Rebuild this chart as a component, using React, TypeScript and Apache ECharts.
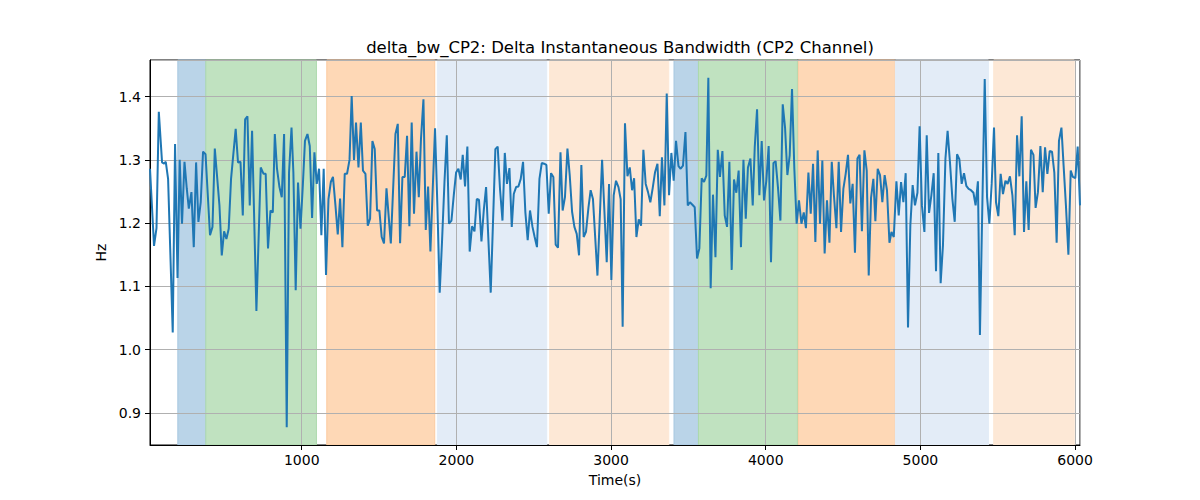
/**
 * delta_bw_CP2 time series with phase spans
 */

import React, { useEffect, useRef } from 'react';
import * as echarts from 'echarts';

// [time (s), delta bandwidth (Hz)]
const bwSamples: [number, number][] = [
  [19, 1.286], [45, 1.164], [61, 1.192], [76, 1.376], [97, 1.296], [110, 1.294], [121, 1.297], [136, 1.27], [166, 1.027], [181, 1.325],
  [197, 1.113], [211, 1.3], [226, 1.199], [242, 1.297], [257, 1.254], [270, 1.223], [287, 1.249], [302, 1.162], [317, 1.296], [332, 1.202],
  [347, 1.233], [362, 1.313], [378, 1.309], [407, 1.181], [423, 1.194], [438, 1.318], [468, 1.228], [483, 1.149], [498, 1.187], [513, 1.175],
  [528, 1.191], [543, 1.27], [573, 1.349], [588, 1.296], [604, 1.297], [619, 1.212], [634, 1.364], [649, 1.369], [664, 1.228], [679, 1.346],
  [707, 1.061], [735, 1.288], [753, 1.278], [767, 1.278], [782, 1.16], [798, 1.22], [813, 1.217], [826, 1.341], [840, 1.286], [856, 1.257],
  [871, 1.241], [886, 1.341], [903, 0.877], [918, 1.28], [934, 1.351], [946, 1.28], [961, 1.094], [976, 1.264], [992, 1.191], [1007, 1.259],
  [1021, 1.33], [1037, 1.341], [1052, 1.322], [1067, 1.208], [1082, 1.312], [1097, 1.262], [1112, 1.286], [1127, 1.181], [1142, 1.286], [1157, 1.118],
  [1173, 1.238], [1188, 1.265], [1202, 1.273], [1218, 1.228], [1233, 1.182], [1248, 1.239], [1263, 1.162], [1278, 1.278], [1293, 1.278], [1309, 1.3],
  [1323, 1.401], [1338, 1.3], [1351, 1.359], [1367, 1.288], [1382, 1.359], [1396, 1.283], [1412, 1.278], [1427, 1.196], [1442, 1.207], [1457, 1.33],
  [1472, 1.317], [1487, 1.22], [1502, 1.22], [1517, 1.178], [1532, 1.168], [1548, 1.255], [1576, 1.168], [1606, 1.341], [1621, 1.357], [1636, 1.168],
  [1651, 1.273], [1666, 1.273], [1681, 1.338], [1696, 1.195], [1711, 1.359], [1726, 1.215], [1742, 1.313], [1757, 1.241], [1771, 1.333], [1787, 1.396],
  [1802, 1.189], [1817, 1.258], [1832, 1.155], [1847, 1.254], [1862, 1.35], [1877, 1.228], [1892, 1.09], [1907, 1.17], [1923, 1.265], [1938, 1.339],
  [1952, 1.199], [1968, 1.204], [1983, 1.244], [1998, 1.28], [2013, 1.286], [2028, 1.269], [2041, 1.308], [2056, 1.258], [2071, 1.321], [2086, 1.155],
  [2101, 1.195], [2117, 1.187], [2132, 1.238], [2146, 1.237], [2162, 1.171], [2177, 1.22], [2192, 1.257], [2222, 1.09], [2252, 1.317], [2267, 1.321],
  [2282, 1.254], [2298, 1.204], [2313, 1.311], [2327, 1.262], [2343, 1.287], [2358, 1.194], [2371, 1.246], [2386, 1.257], [2401, 1.258], [2416, 1.27],
  [2431, 1.297], [2446, 1.217], [2461, 1.173], [2476, 1.22], [2492, 1.194], [2506, 1.178], [2521, 1.162], [2537, 1.27], [2552, 1.295], [2567, 1.294],
  [2582, 1.292], [2597, 1.215], [2612, 1.279], [2627, 1.273], [2642, 1.166], [2657, 1.161], [2673, 1.312], [2687, 1.22], [2702, 1.241], [2718, 1.318],
  [2733, 1.275], [2748, 1.218], [2763, 1.194], [2778, 1.183], [2793, 1.149], [2808, 1.292], [2823, 1.178], [2838, 1.186], [2854, 1.225], [2868, 1.252],
  [2883, 1.238], [2912, 1.117], [2942, 1.3], [2972, 1.138], [2987, 1.262], [3002, 1.11], [3017, 1.244], [3032, 1.267], [3048, 1.257], [3062, 1.238],
  [3075, 1.036], [3090, 1.358], [3106, 1.274], [3121, 1.288], [3136, 1.252], [3149, 1.271], [3164, 1.178], [3179, 1.206], [3194, 1.196], [3209, 1.316],
  [3224, 1.262], [3239, 1.249], [3254, 1.233], [3269, 1.255], [3284, 1.28], [3300, 1.294], [3315, 1.211], [3329, 1.304], [3345, 1.228], [3360, 1.405],
  [3375, 1.244], [3390, 1.311], [3405, 1.267], [3420, 1.33], [3436, 1.29], [3450, 1.286], [3465, 1.291], [3481, 1.344], [3496, 1.228], [3510, 1.233],
  [3526, 1.229], [3541, 1.225], [3556, 1.144], [3571, 1.16], [3586, 1.271], [3601, 1.265], [3616, 1.275], [3629, 1.43], [3644, 1.097], [3659, 1.245],
  [3675, 1.146], [3690, 1.316], [3704, 1.273], [3720, 1.314], [3735, 1.212], [3750, 1.194], [3765, 1.297], [3780, 1.126], [3795, 1.269], [3810, 1.248],
  [3825, 1.283], [3840, 1.162], [3856, 1.3], [3871, 1.207], [3885, 1.288], [3901, 1.302], [3916, 1.228], [3929, 1.32], [3944, 1.38], [3959, 1.244],
  [3974, 1.33], [3989, 1.236], [4004, 1.267], [4019, 1.322], [4034, 1.138], [4050, 1.295], [4064, 1.298], [4079, 1.257], [4095, 1.204], [4110, 1.388],
  [4125, 1.351], [4140, 1.276], [4155, 1.307], [4170, 1.412], [4185, 1.286], [4200, 1.199], [4215, 1.236], [4231, 1.199], [4246, 1.217], [4260, 1.192],
  [4276, 1.28], [4291, 1.215], [4306, 1.294], [4321, 1.17], [4336, 1.315], [4351, 1.199], [4366, 1.299], [4381, 1.152], [4396, 1.236], [4412, 1.169],
  [4427, 1.297], [4441, 1.244], [4457, 1.192], [4472, 1.297], [4487, 1.186], [4502, 1.254], [4517, 1.278], [4532, 1.308], [4547, 1.231], [4562, 1.262],
  [4577, 1.153], [4593, 1.302], [4607, 1.308], [4622, 1.187], [4638, 1.315], [4653, 1.283], [4666, 1.117], [4681, 1.24], [4696, 1.27], [4709, 1.203],
  [4724, 1.286], [4739, 1.276], [4754, 1.233], [4769, 1.276], [4784, 1.252], [4800, 1.169], [4813, 1.186], [4828, 1.178], [4845, 1.266], [4860, 1.212],
  [4875, 1.265], [4890, 1.233], [4905, 1.279], [4920, 1.035], [4935, 1.196], [4950, 1.26], [4965, 1.228], [4981, 1.248], [4995, 1.353], [5010, 1.228],
  [5026, 1.186], [5041, 1.339], [5056, 1.216], [5071, 1.244], [5086, 1.279], [5101, 1.124], [5116, 1.311], [5131, 1.105], [5146, 1.165], [5162, 1.302],
  [5176, 1.346], [5191, 1.297], [5207, 1.238], [5222, 1.202], [5237, 1.309], [5252, 1.301], [5267, 1.262], [5282, 1.279], [5297, 1.259], [5312, 1.254],
  [5327, 1.252], [5343, 1.248], [5357, 1.228], [5372, 1.266], [5385, 1.023], [5401, 1.233], [5416, 1.428], [5431, 1.241], [5446, 1.199], [5461, 1.262],
  [5476, 1.351], [5489, 1.233], [5504, 1.211], [5519, 1.278], [5534, 1.246], [5550, 1.267], [5564, 1.262], [5579, 1.274], [5595, 1.244], [5610, 1.181],
  [5625, 1.339], [5640, 1.274], [5655, 1.369], [5670, 1.186], [5685, 1.266], [5700, 1.189], [5715, 1.316], [5731, 1.308], [5745, 1.224], [5760, 1.249],
  [5776, 1.322], [5791, 1.249], [5806, 1.32], [5821, 1.278], [5836, 1.314], [5851, 1.313], [5866, 1.28], [5881, 1.169], [5896, 1.33], [5912, 1.351],
  [5926, 1.291], [5941, 1.228], [5957, 1.15], [5972, 1.283], [5986, 1.273], [6002, 1.271], [6017, 1.321], [6032, 1.228],
];

// shaded phases: start, end, kind
const phaseStart = [199, 380, 1162, 1877, 2603, 3407, 3565, 4211, 4838, 5474];
const phaseEnd = [380, 1095, 1860, 2584, 3373, 3565, 4205, 4835, 5440, 5995];
const phaseKind = ['blue', 'green', 'orange', 'paleBlue', 'paleOrange', 'blue', 'green', 'orange', 'paleBlue', 'paleOrange'];

const xRange = [19, 6032];
const yRange = [0.849, 1.458];

const kindColor: Record<string, string> = {
  blue: '#bad4e8',
  green: '#c0e2c0',
  orange: '#fed8b6',
  paleBlue: '#e3ecf7',
  paleOrange: '#fde8d6',
};
const kindEdge: Record<string, string> = {
  blue: '#a6c7e0',
  green: '#acd9ac',
  orange: '#fccba0',
  paleBlue: '#e3ecf7',
  paleOrange: '#fde8d6',
};

const FONT = 'DejaVu Sans';

export default function App() {
  const chartRef = useRef<HTMLDivElement>(null);

  useEffect(() => {
    if (!chartRef.current) return;
    const chart = echarts.init(chartRef.current, null, { renderer: 'svg' });

    const areas = phaseStart.map((s, i) => [
      {
        xAxis: s,
        itemStyle: { color: kindColor[phaseKind[i]], borderColor: kindEdge[phaseKind[i]], borderWidth: 1 },
      },
      { xAxis: phaseEnd[i] },
    ]);

    const option: echarts.EChartsOption = {
      animation: false,
      backgroundColor: '#fff',
      title: {
        text: 'delta_bw_CP2: Delta Instantaneous Bandwidth (CP2 Channel)',
        left: 615,
        top: 34,
        textAlign: 'center',
        textStyle: { fontFamily: FONT, fontSize: 16.5, fontWeight: 'normal', color: '#000' },
      },
      grid: {
        left: 150,
        right: 120,
        top: 60,
        bottom: 55,
        show: true,
        borderColor: '#000',
        borderWidth: 1,
        backgroundColor: 'transparent',
      },
      xAxis: {
        type: 'value',
        min: xRange[0],
        max: xRange[1],
        splitNumber: 6,
        z: 2,
        name: 'Time(s)',
        nameLocation: 'middle',
        nameGap: 28,
        nameTextStyle: { fontFamily: FONT, fontSize: 14, color: '#000' },
        axisLine: { lineStyle: { color: '#000', width: 1 } },
        axisTick: { length: 5, lineStyle: { color: '#000' } },
        axisLabel: {
          fontFamily: FONT,
          fontSize: 14,
          color: '#000',
          margin: 8,
          showMinLabel: false,
          showMaxLabel: false,
          formatter: (v: number) => String(v),
        },
        splitLine: { show: true, lineStyle: { color: '#b0b0b0', width: 1 } },
      },
      yAxis: {
        type: 'value',
        min: yRange[0],
        max: yRange[1],
        z: 2,
        name: 'Hz',
        nameLocation: 'middle',
        nameGap: 35,
        nameRotate: 90,
        nameTextStyle: { fontFamily: FONT, fontSize: 14, color: '#000' },
        axisLine: { show: true, lineStyle: { color: '#000', width: 1 } },
        axisTick: { show: true, length: 5, lineStyle: { color: '#000' } },
        axisLabel: {
          fontFamily: FONT,
          fontSize: 14,
          color: '#000',
          margin: 9,
          showMinLabel: false,
          showMaxLabel: false,
          formatter: (v: number) => v.toFixed(1),
        },
        splitLine: { show: true, lineStyle: { color: '#b0b0b0', width: 1 } },
      },
      series: [
        {
          name: 'phases',
          type: 'line',
          z: 1,
          data: [],
          silent: true,
          markArea: { silent: true, data: areas as any },
        },
        {
          name: 'delta_bw_CP2',
          type: 'line',
          z: 3,
          data: bwSamples,
          showSymbol: false,
          lineStyle: { color: '#1f77b4', width: 2 },
          itemStyle: { color: '#1f77b4' },
        },
      ],
    };

    chart.setOption(option);

    return () => {
      chart.dispose();
    };
  }, []);

  return (
    <div
      ref={chartRef}
      style={{ position: 'fixed', left: 0, top: 0, width: '1200px', height: '500px' }}
    />
  );
}
